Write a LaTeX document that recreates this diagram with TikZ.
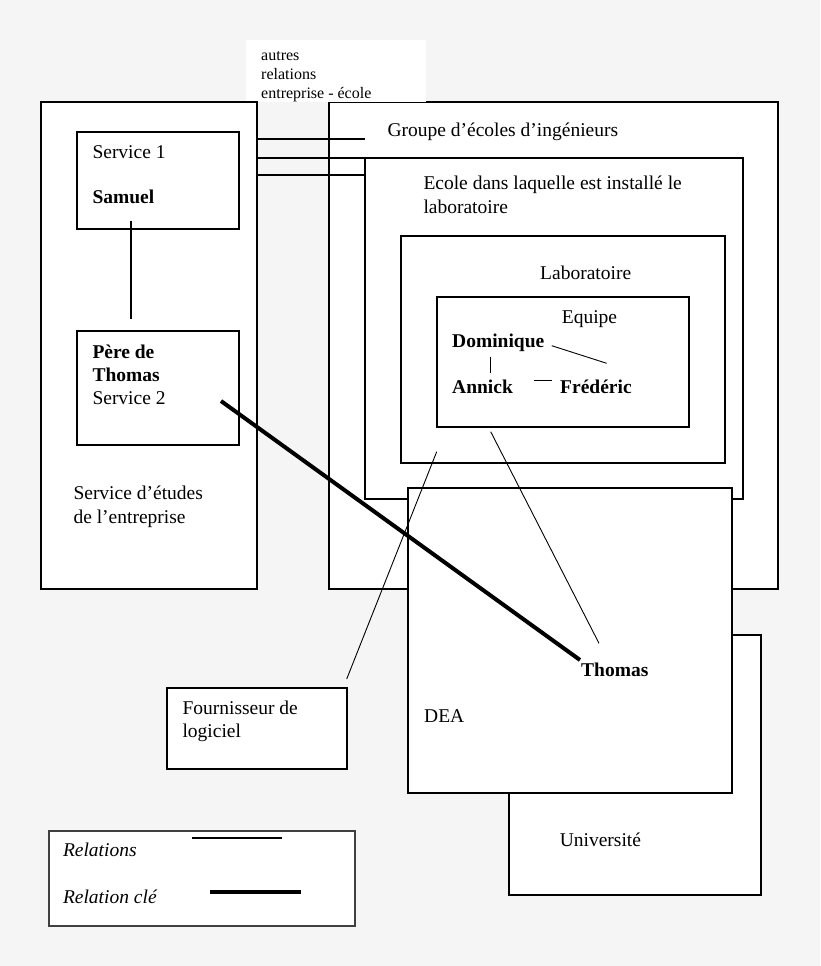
\documentclass[tikz,border=0pt]{standalone}
\usepackage{fontspec}
\setmainfont{Liberation Serif}
\begin{document}
\definecolor{bgcol}{RGB}{245,245,245}
\begin{tikzpicture}[x=1pt,y=-1pt,
  box/.style={draw=black, fill=white, line width=2pt, inner sep=0pt, outer sep=0pt, anchor=north west},
  lbl/.style={anchor=base west, inner sep=0pt, font=\fontsize{19.5}{23}\selectfont},
  bold/.style={lbl, font=\fontsize{19.5}{23}\selectfont\bfseries},
  ital/.style={lbl, font=\fontsize{19.5}{23}\selectfont\itshape},
  small/.style={anchor=base west, inner sep=0pt, font=\fontsize{16}{18.5}\selectfont},
  link/.style={line width=2pt},
  rel/.style={line width=0.9pt},
  keyrel/.style={line width=4pt}]
\fill[bgcol] (0,0) rectangle (820,966);
\useasboundingbox (0,0) rectangle (820,966);
% boxes
\node[box, minimum width=449pt, minimum height=487pt] (groupe) at (329,102) {};
\node[fill=white, inner sep=0pt, outer sep=0pt, anchor=north west, minimum width=180pt, minimum height=62pt] (autresbox) at (246,40) {};
\node[box, minimum width=216pt, minimum height=487pt] (service) at (41,102) {};
\node[box, minimum width=162pt, minimum height=97pt] (service1) at (77,132) {};
\node[box, minimum width=162pt, minimum height=114pt] (pere) at (77,331) {};
\node[box, minimum width=378pt, minimum height=341pt] (ecole) at (365,158) {};
\node[box, minimum width=324pt, minimum height=227pt] (labo) at (401,236) {};
\node[box, minimum width=252pt, minimum height=130pt] (equipe) at (437,297) {};
\node[box, minimum width=252pt, minimum height=260pt] (univ) at (509,635) {};
\node[box, minimum width=324pt, minimum height=305pt] (dea) at (408,488) {};
\node[box, minimum width=180pt, minimum height=81pt] (fourn) at (167,688) {};
\node[box, draw=black!75, line width=1.4pt, minimum width=306pt, minimum height=95pt] (legend) at (49,831) {};
% other relations lines
\draw[link] (service.east |- 0,139) -- (ecole.west |- 0,139);
\draw[link] (service.east |- 0,158) -- (ecole.north west);
\draw[link] (service.east |- 0,175) -- (ecole.west |- 0,175);
% texts
\node[small] (autres1) at (261,61) {autres};
\node[small] (autres2) at (261,79.5) {relations};
\node[small] (autres3) at (261,98) {entreprise - école};
\node[lbl] (groupelbl) at (387.3,136.5) {Groupe d’écoles d’ingénieurs};
\node[lbl] (s1lbl) at (92.3,158) {Service 1};
\node[bold] (samuel) at (92.3,203) {Samuel};
\node[bold] (pere1) at (92.3,358) {Père de};
\node[bold] (pere2) at (92.3,381.5) {Thomas};
\node[lbl] (pere3) at (92.3,404.5) {Service 2};
\node[lbl] (sel1) at (73.3,499) {Service d’études};
\node[lbl] (sel2) at (73.3,523) {de l’entreprise};
\node[lbl] (ecolelbl1) at (423.3,189.8) {Ecole dans laquelle est installé le};
\node[lbl] (ecolelbl2) at (423.3,213) {laboratoire};
\node[lbl] (labolbl) at (540,279.8) {Laboratoire};
\node[lbl] (equipelbl) at (561.7,323.5) {Equipe};
\node[bold] (dominique) at (452,347.5) {Dominique};
\node[bold] (annick) at (452,393) {Annick};
\node[bold] (frederic) at (560,393) {Frédéric};
\node[bold] (thomas) at (581,676.5) {Thomas};
\node[lbl] (dealbl) at (424,722.5) {DEA};
\node[lbl] (fourn1) at (182.3,714.5) {Fournisseur de};
\node[lbl] (fourn2) at (182.3,737) {logiciel};
\node[lbl] (univlbl) at (559.6,846.5) {Université};
\node[ital] (leg1) at (62.8,856.5) {Relations};
\node[ital] (leg2) at (62.8,903) {Relation clé};
% connector end points
\coordinate (samuelend) at (131,221);
\coordinate (pereend) at (131,319);
\coordinate (domA) at (490,356.7);
\coordinate (annD) at (490,373.3);
\coordinate (domF) at (551.7,345.7);
\coordinate (freD) at (606.7,363.3);
\coordinate (annF) at (534,380.5);
\coordinate (freA) at (552.3,380.5);
\coordinate (equipeend) at (490.7,431.7);
\coordinate (thomasend) at (599,643.3);
\coordinate (laboend) at (436.7,451.7);
\coordinate (fournend) at (346.7,679);
\coordinate (pereKey) at (221,401);
\coordinate (thomasKey) at (580,660);
\coordinate (legA1) at (192,838);
\coordinate (legA2) at (282,838);
\coordinate (legB1) at (210,892);
\coordinate (legB2) at (300.7,892);
% connectors
\draw[link] (samuelend) -- (pereend);
\draw[rel] (domA) -- (annD);
\draw[rel] (domF) -- (freD);
\draw[rel] (annF) -- (freA);
\draw[rel] (equipeend) -- (thomasend);
\draw[rel] (laboend) -- (fournend);
\draw[keyrel] (pereKey) -- (thomasKey);
\draw[line width=2pt] (legA1) -- (legA2);
\draw[keyrel] (legB1) -- (legB2);
\end{tikzpicture}
\end{document}
